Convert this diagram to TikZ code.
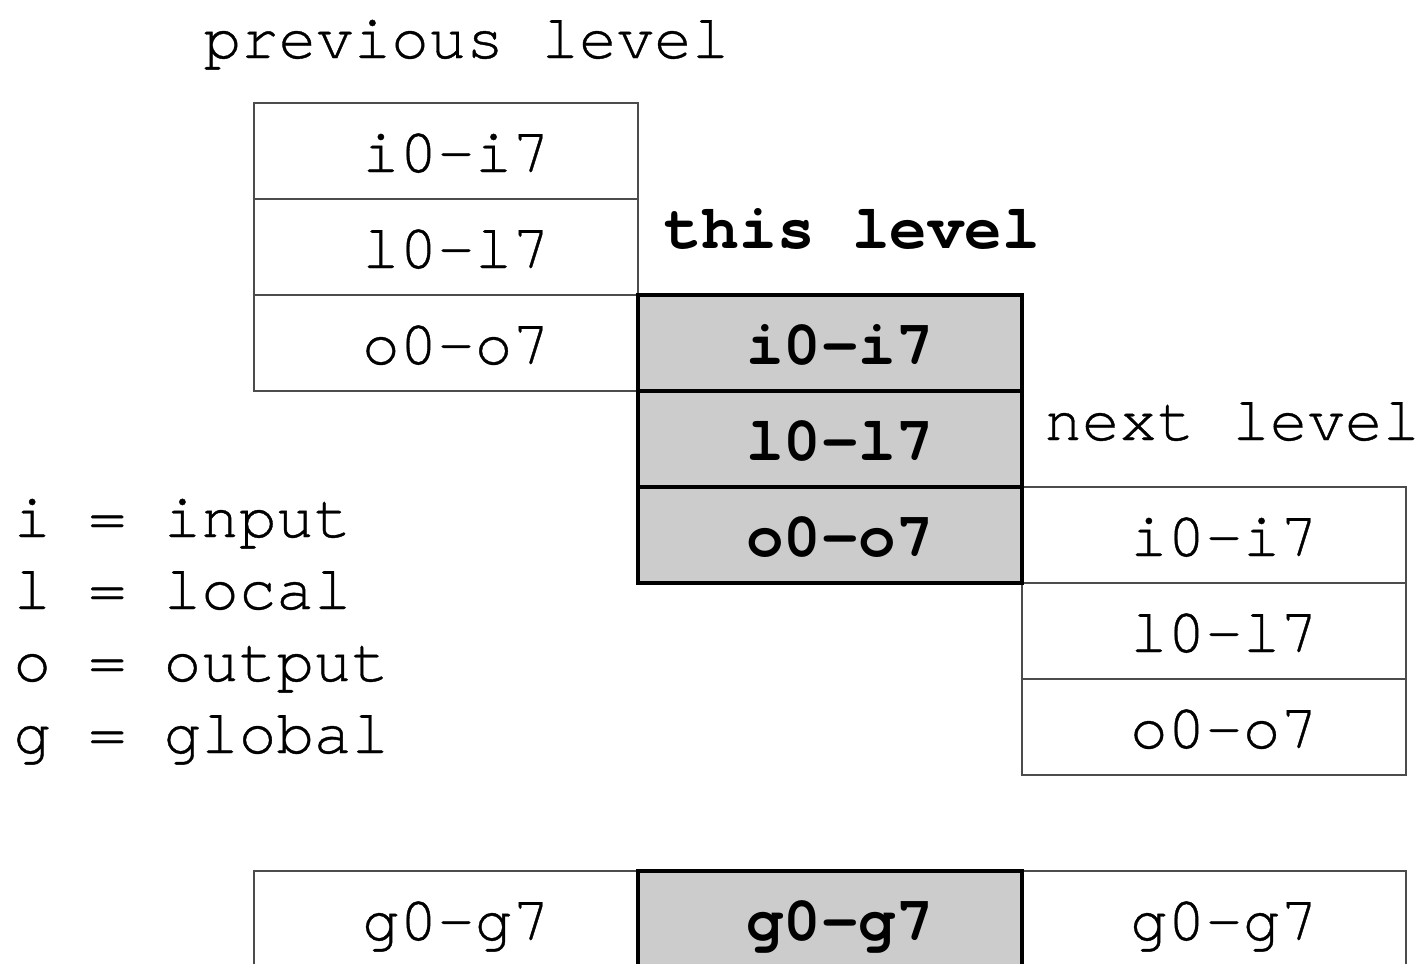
\documentclass[tikz,border=0pt]{standalone}
\usepackage{fontspec}
\newfontfamily\regmono[UprightFeatures={FakeBold=0.6}]{TeX Gyre Cursor}
\newcommand\regfont{\regmono\fontsize{31.3pt}{37pt}\selectfont}
\begin{document}
\begin{tikzpicture}[x=0.5pt,y=-0.5pt,
  cell/.style={draw=black!70,line width=0.75pt,minimum width=192pt,minimum height=48pt,
    inner sep=0pt,outer sep=0pt,anchor=north west,font=\regfont,
    text height=34.5pt,text depth=13.5pt,
    execute at begin node={\hspace*{10pt}}},
  curcell/.style={cell,draw=black,line width=2pt,fill=black!20,font=\regfont\bfseries},
  heading/.style={font=\regfont,anchor=base west,inner sep=0pt},
]
\clip (0,0) rectangle (1426,964);
\fill[white] (0,0) rectangle (1426,964);

% previous window
\node[cell] (pi) at (254,103) {i0-i7};
\node[cell] (pl) at (254,199) {l0-l7};
\node[cell] (po) at (254,295) {o0-o7};
% next window
\node[cell] (ni) at (1022,487) {i0-i7};
\node[cell] (nl) at (1022,583) {l0-l7};
\node[cell] (no) at (1022,679) {o0-o7};
% globals
\node[cell] (pg) at (254,871) {g0-g7};
\node[cell] (ng) at (1022,871) {g0-g7};
% current window
\node[curcell] (ci) at (638,295) {i0-i7};
\node[curcell] (cl) at (638,391) {l0-l7};
\node[curcell] (co) at (638,487) {o0-o7};
\node[curcell] (cg) at (638,871) {g0-g7};

% headings
\node[heading] (hprev) at (203,58) {previous level};
\node[heading,font=\regfont\bfseries] (hthis) at (664,248) {this level};
\node[heading] (hnext) at (1044,440) {next level};

% legend
\node[heading] (li) at (13,537) {i = input};
\node[heading] (ll) at (13,609) {l = local};
\node[heading] (lo) at (13,681) {o = output};
\node[heading] (lg) at (13,753) {g = global};
\end{tikzpicture}
\end{document}
